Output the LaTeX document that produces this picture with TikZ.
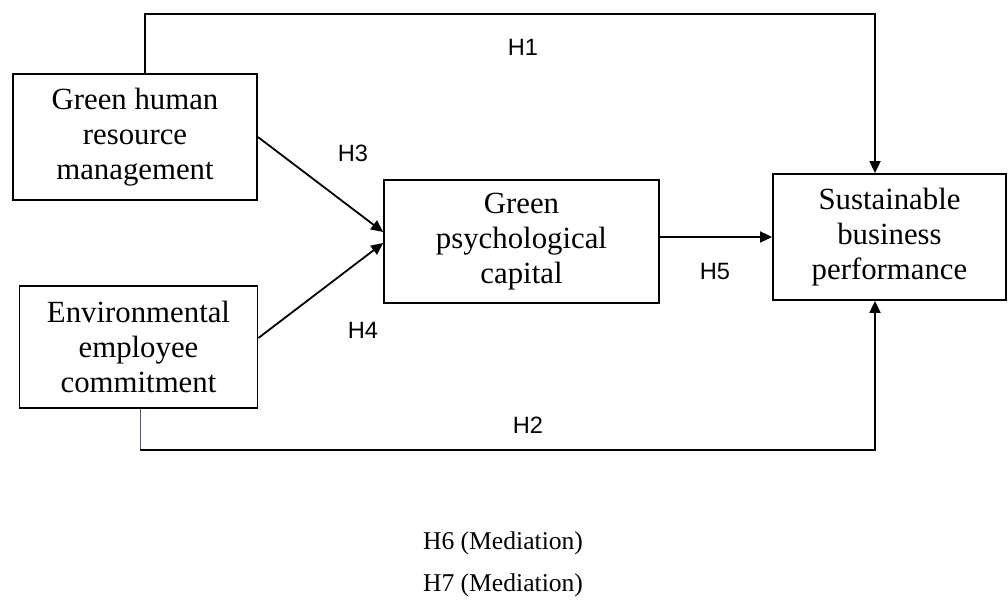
\documentclass[tikz,border=0pt]{standalone}
\usepackage{fontspec}
\setmainfont{Liberation Serif}
\newfontfamily\hypfont{Liberation Sans}
\usetikzlibrary{arrows.meta}

\tikzset{
  varbox/.style={draw, line width=0.9pt, align=center, inner sep=0pt,
    font=\fontsize{15.4}{17.6}\selectfont},
  link/.style={line width=0.9pt, -{Triangle[length=6pt,width=5.5pt]}},
  hyp/.style={font=\hypfont\fontsize{11.8}{13}\selectfont},
  medlabel/.style={font=\fontsize{12.8}{15}\selectfont}
}

\begin{document}
\begin{tikzpicture}[x=0.5pt,y=-0.5pt]
\useasboundingbox (0,0) rectangle (1008,610);

% variables
\node[varbox, minimum width=122pt, minimum height=63pt] (ghrm) at (135,137) {Green human\\resource\\management};
\node[varbox, minimum width=119pt, minimum height=61pt] (eec) at (138.5,347) {Environmental\\employee\\commitment};
\node[varbox, minimum width=137.5pt, minimum height=61.5pt] (gpc) at (521.5,241.5) {Green\\psychological\\capital};
\node[varbox, minimum width=116.5pt, minimum height=63pt] (sbp) at (889.5,237) {Sustainable\\business\\performance};

% direct paths
\coordinate (tl) at (145,14);
\coordinate (tr) at (875,14);
\coordinate (bl) at (140,450);
\coordinate (br) at (875,450);
\draw[link] (ghrm.north -| tl) -- (tl) -- (tr) -- (sbp.north -| tr);
\draw[line width=0.5pt, blue!35!gray] (eec.south -| bl) -- (bl);
\draw[link] (bl) -- (br) -- (sbp.south -| br);

% mediator paths
\draw[link] (ghrm.east) -- ([yshift=4.75pt]gpc.west);
\draw[link] ([yshift=4.5pt]eec.east) -- ([yshift=-0.75pt]gpc.west);
\draw[link] (gpc.east |- sbp.west) -- (sbp.west);

\node[hyp] (h1) at (523,47) {H1};
\node[hyp] (h2) at (528,425) {H2};
\node[hyp] (h3) at (353,153) {H3};
\node[hyp] (h4) at (363,330) {H4};
\node[hyp] (h5) at (715,271) {H5};

\node[medlabel] (h6) at (503,543) {H6 (Mediation)};
\node[medlabel] (h7) at (503,585) {H7 (Mediation)};
\end{tikzpicture}
\end{document}
